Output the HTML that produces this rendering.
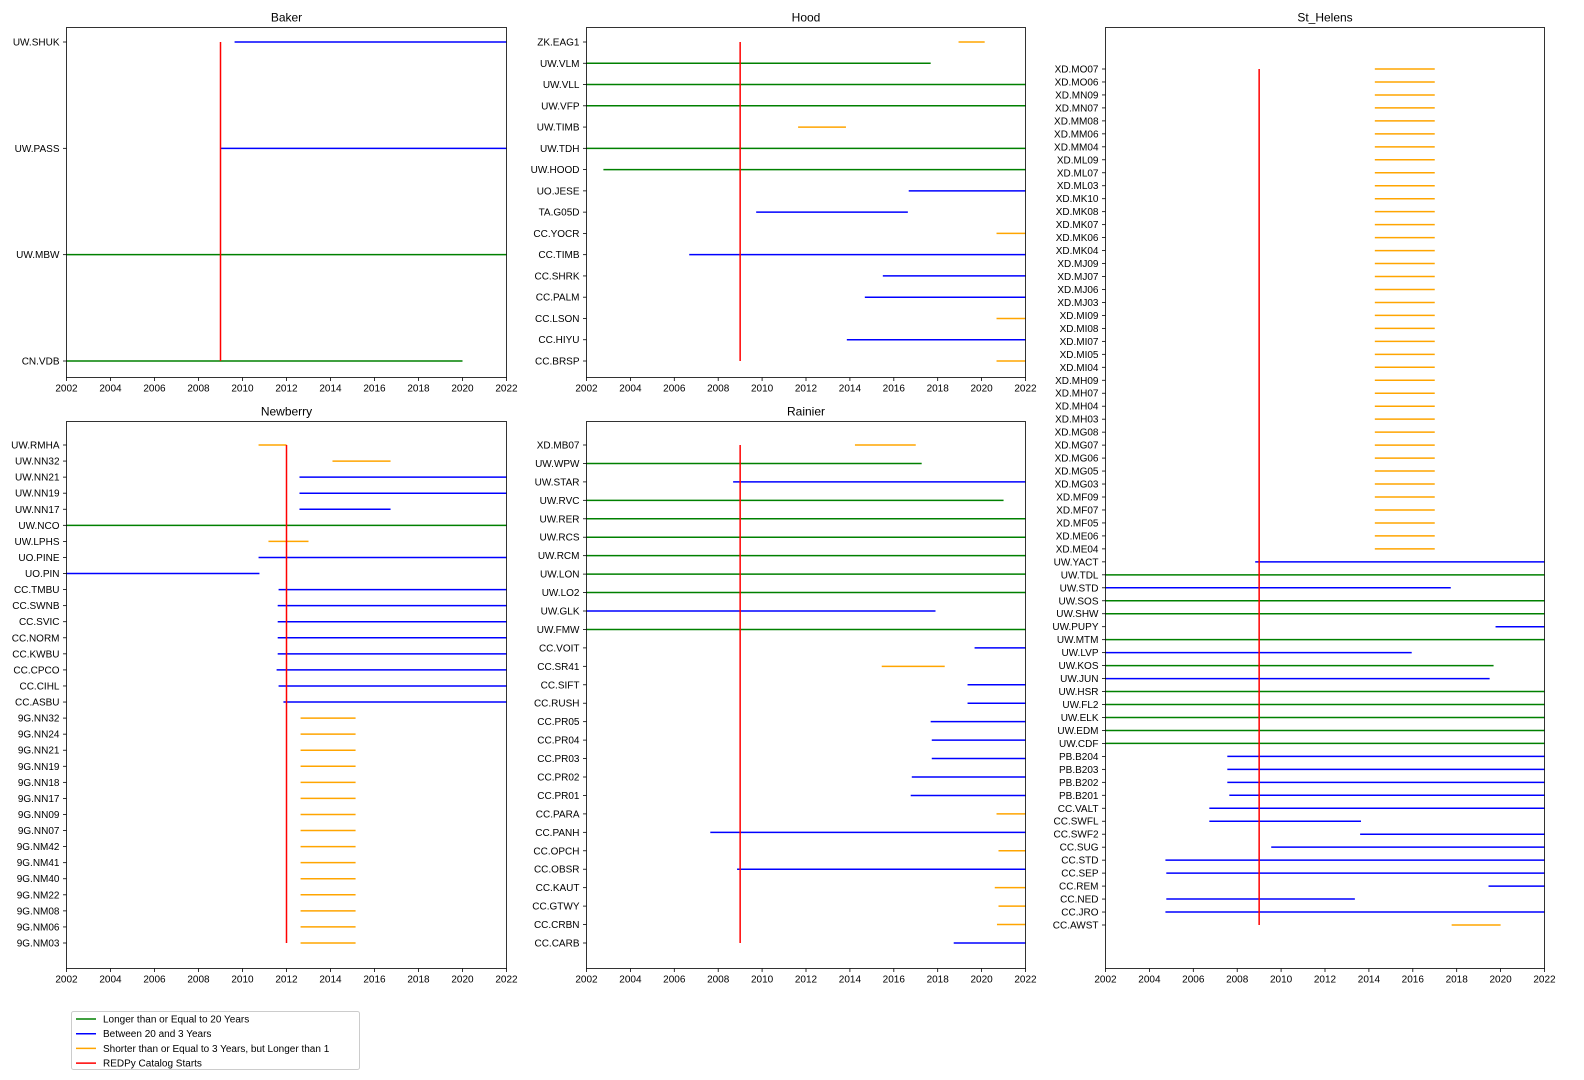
<!DOCTYPE html>
<html><head><meta charset="utf-8">
<style>
html,body{margin:0;padding:0;background:#fff;}
svg{display:block;font-family:"Liberation Sans","DejaVu Sans",sans-serif;}
</style></head>
<body>
<svg id="fig" width="1584" height="1080" viewBox="0 0 1584 1080" xmlns="http://www.w3.org/2000/svg"></svg>
<script>
// ---- data ----
const bakerStations=["UW.SHUK","UW.PASS","UW.MBW","CN.VDB"];
const bakerStart=[2009.64,2009.0,2002,2002];
const bakerEnd=[2022.5,2022.5,2022.5,2020.0];
const bakerCat=["b","b","g","g"];

const hoodStations=["ZK.EAG1","UW.VLM","UW.VLL","UW.VFP","UW.TIMB","UW.TDH","UW.HOOD","UO.JESE","TA.G05D","CC.YOCR","CC.TIMB","CC.SHRK","CC.PALM","CC.LSON","CC.HIYU","CC.BRSP"];
const hoodStart=[2018.95,2002,2002,2002,2011.64,2002,2002.77,2016.68,2009.73,2020.68,2006.68,2015.5,2014.68,2020.68,2013.86,2020.68];
const hoodEnd=[2020.14,2017.68,2022.5,2022.5,2013.82,2022.5,2022.5,2022.5,2016.64,2022.5,2022.5,2022.5,2022.5,2022.5,2022.5,2022.5];
const hoodCat=["o","g","g","g","o","g","g","b","b","o","b","b","b","o","b","o"];

const nbStations=["UW.RMHA","UW.NN32","UW.NN21","UW.NN19","UW.NN17","UW.NCO","UW.LPHS","UO.PINE","UO.PIN","CC.TMBU","CC.SWNB","CC.SVIC","CC.NORM","CC.KWBU","CC.CPCO","CC.CIHL","CC.ASBU","9G.NN32","9G.NN24","9G.NN21","9G.NN19","9G.NN18","9G.NN17","9G.NN09","9G.NN07","9G.NM42","9G.NM41","9G.NM40","9G.NM22","9G.NM08","9G.NM06","9G.NM03"];
const nbStart=[2010.73,2014.09,2012.59,2012.59,2012.59,2002,2011.18,2010.73,2002,2011.64,2011.6,2011.6,2011.6,2011.6,2011.55,2011.64,2011.86,2012.64,2012.64,2012.64,2012.64,2012.64,2012.64,2012.64,2012.64,2012.64,2012.64,2012.64,2012.64,2012.64,2012.64,2012.64];
const nbEnd=[2012.0,2016.73,2022.5,2022.5,2016.73,2022.5,2013.0,2022.5,2010.77,2022.5,2022.5,2022.5,2022.5,2022.5,2022.5,2022.5,2022.5,2015.14,2015.14,2015.14,2015.14,2015.14,2015.14,2015.14,2015.14,2015.14,2015.14,2015.14,2015.14,2015.14,2015.14,2015.14];
const nbCat=["o","o","b","b","b","g","o","b","b","b","b","b","b","b","b","b","b","o","o","o","o","o","o","o","o","o","o","o","o","o","o","o"];

const raStations=["XD.MB07","UW.WPW","UW.STAR","UW.RVC","UW.RER","UW.RCS","UW.RCM","UW.LON","UW.LO2","UW.GLK","UW.FMW","CC.VOIT","CC.SR41","CC.SIFT","CC.RUSH","CC.PR05","CC.PR04","CC.PR03","CC.PR02","CC.PR01","CC.PARA","CC.PANH","CC.OPCH","CC.OBSR","CC.KAUT","CC.GTWY","CC.CRBN","CC.CARB"];
const raStart=[2014.23,2002,2008.68,2002,2002,2002,2002,2002,2002,2002,2002,2019.68,2015.45,2019.36,2019.36,2017.68,2017.73,2017.73,2016.82,2016.77,2020.68,2007.64,2020.77,2008.86,2020.6,2020.77,2020.7,2018.73];
const raEnd=[2017.0,2017.27,2022.5,2021.0,2022.5,2022.5,2022.5,2022.5,2022.5,2017.9,2022.5,2022.5,2018.32,2022.5,2022.5,2022.5,2022.5,2022.5,2022.5,2022.5,2022.5,2022.5,2022.5,2022.5,2022.5,2022.5,2022.5,2022.5];
const raCat=["o","g","b","g","g","g","g","g","g","b","g","b","o","b","b","b","b","b","b","b","o","b","o","b","o","o","o","b"];

const shStations=["XD.MO07","XD.MO06","XD.MN09","XD.MN07","XD.MM08","XD.MM06","XD.MM04","XD.ML09","XD.ML07","XD.ML03","XD.MK10","XD.MK08","XD.MK07","XD.MK06","XD.MK04","XD.MJ09","XD.MJ07","XD.MJ06","XD.MJ03","XD.MI09","XD.MI08","XD.MI07","XD.MI05","XD.MI04","XD.MH09","XD.MH07","XD.MH04","XD.MH03","XD.MG08","XD.MG07","XD.MG06","XD.MG05","XD.MG03","XD.MF09","XD.MF07","XD.MF05","XD.ME06","XD.ME04","UW.YACT","UW.TDL","UW.STD","UW.SOS","UW.SHW","UW.PUPY","UW.MTM","UW.LVP","UW.KOS","UW.JUN","UW.HSR","UW.FL2","UW.ELK","UW.EDM","UW.CDF","PB.B204","PB.B203","PB.B202","PB.B201","CC.VALT","CC.SWFL","CC.SWF2","CC.SUG","CC.STD","CC.SEP","CC.REM","CC.NED","CC.JRO","CC.AWST"];
const shStart=[];const shEnd=[];const shCat=[];
const shXdStart=2014.27, shXdEnd=2017.0;
const shRestStart=[2008.82,2002,2002,2002,2002,2019.77,2002,2002,2002,2002,2002,2002,2002,2002,2002,2007.55,2007.55,2007.55,2007.64,2006.73,2006.73,2013.6,2009.55,2004.73,2004.77,2019.45,2004.77,2004.73,2017.77];
const shRestEnd=[2022.5,2022.5,2017.73,2022.5,2022.5,2022.5,2022.5,2015.95,2019.68,2019.5,2022.5,2022.5,2022.5,2022.5,2022.5,2022.5,2022.5,2022.5,2022.5,2022.5,2013.64,2022.5,2022.5,2022.5,2022.5,2022.5,2013.36,2022.5,2020.0];
const shRestCat=["b","g","b","g","g","b","g","b","g","b","g","g","g","g","g","b","b","b","b","b","b","b","b","b","b","b","b","b","o"];
for(let i=0;i<38;i++){shStart.push(shXdStart);shEnd.push(shXdEnd);shCat.push("o");}
shRestStart.forEach((v,i)=>{shStart.push(v);shEnd.push(shRestEnd[i]);shCat.push(shRestCat[i]);});

const xTicks=[2002,2004,2006,2008,2010,2012,2014,2016,2018,2020,2022];
const colors={g:"green",b:"blue",o:"orange"};

// ---- drawing ----
const svg=document.getElementById("fig");
const NS="http://www.w3.org/2000/svg";
function mk(tag,attrs,parent){const e=document.createElementNS(NS,tag);for(const k in attrs)e.setAttribute(k,attrs[k]);(parent||svg).appendChild(e);return e;}

let clipId=0;
function panel(name,title,L,T,R,B,yFirst,yLast,stations,st,en,cat,redYear){
  const g=mk("g",{});
  
  
  const x=v=>L+(v-2002)/20*(R-L);
  const n=stations.length;
  const y=i=>n>1?yFirst+i*(yLast-yFirst)/(n-1):yFirst;
  const cid="c"+(clipId++);
  const cp=mk("clipPath",{id:cid},g);mk("rect",{x:L,y:T,width:R-L,height:B-T},cp);
  const t=mk("text",{x:(L+R)/2,y:T-6,"text-anchor":"middle","font-size":"12"},g);
  t.textContent=title;
  
  
  const lines=mk("g",{"clip-path":"url(#"+cid+")"},g);
  for(let i=0;i<n;i++){
    const l=mk("line",{x1:x(st[i]),x2:x(en[i]),y1:y(i),y2:y(i),stroke:colors[cat[i]],"stroke-width":"1.5"},lines);
    
    
    const tl=mk("text",{x:L-7,y:y(i)+3.5,"text-anchor":"end","font-size":"10"},g);
    tl.textContent=stations[i];
    
    
    mk("line",{x1:L-3.5,x2:L,y1:y(i),y2:y(i),stroke:"#000","stroke-width":"0.8"},g);
  }
  const red=mk("line",{x1:x(redYear),x2:x(redYear),y1:y(0),y2:y(n-1),stroke:"red","stroke-width":"1.5"},g);
  
  
  xTicks.forEach(v=>{
    mk("line",{x1:x(v),x2:x(v),y1:B,y2:B+3.5,stroke:"#000","stroke-width":"0.8"},g);
    const tx=mk("text",{x:x(v),y:B+14,"text-anchor":"middle","font-size":"10"},g);
    tx.textContent=v;
    
    
  });
  const fr=mk("rect",{x:L,y:T,width:R-L,height:B-T,fill:"none",stroke:"#000","stroke-width":"0.8"},g);
  
  
}

panel("baker","Baker",66.5,27.5,506.5,377.5,42,361,bakerStations,bakerStart,bakerEnd,bakerCat,2009);
panel("hood","Hood",586.5,27.5,1025.5,377.5,42,361,hoodStations,hoodStart,hoodEnd,hoodCat,2009);
panel("st-helens","St_Helens",1105.5,27.5,1544.5,968.5,69,925,shStations,shStart,shEnd,shCat,2009);
panel("newberry","Newberry",66.5,421.5,506.5,968.5,445,943,nbStations,nbStart,nbEnd,nbCat,2012);
panel("rainier","Rainier",586.5,421.5,1025.5,968.5,445,943,raStations,raStart,raEnd,raCat,2009);

// legend
const lg=mk("g",{});


mk("rect",{x:71.5,y:1011.5,width:288,height:58,fill:"#fff",stroke:"#ccc","stroke-width":"1",rx:2},lg);
const legLabels=["Longer than or Equal to 20 Years","Between 20 and 3 Years","Shorter than or Equal to 3 Years, but Longer than 1","REDPy Catalog Starts"];
const legColors=["green","blue","orange","red"];
legLabels.forEach((s,i)=>{
  const yy=1019+i*14.7;
  const e=mk("g",{},lg);
  
  
  mk("line",{x1:76,x2:96,y1:yy,y2:yy,stroke:legColors[i],"stroke-width":"1.5"},e);
  const t=mk("text",{x:103,y:yy+3.5,"font-size":"10"},e);
  t.textContent=s;
});
</script>
</body></html>
